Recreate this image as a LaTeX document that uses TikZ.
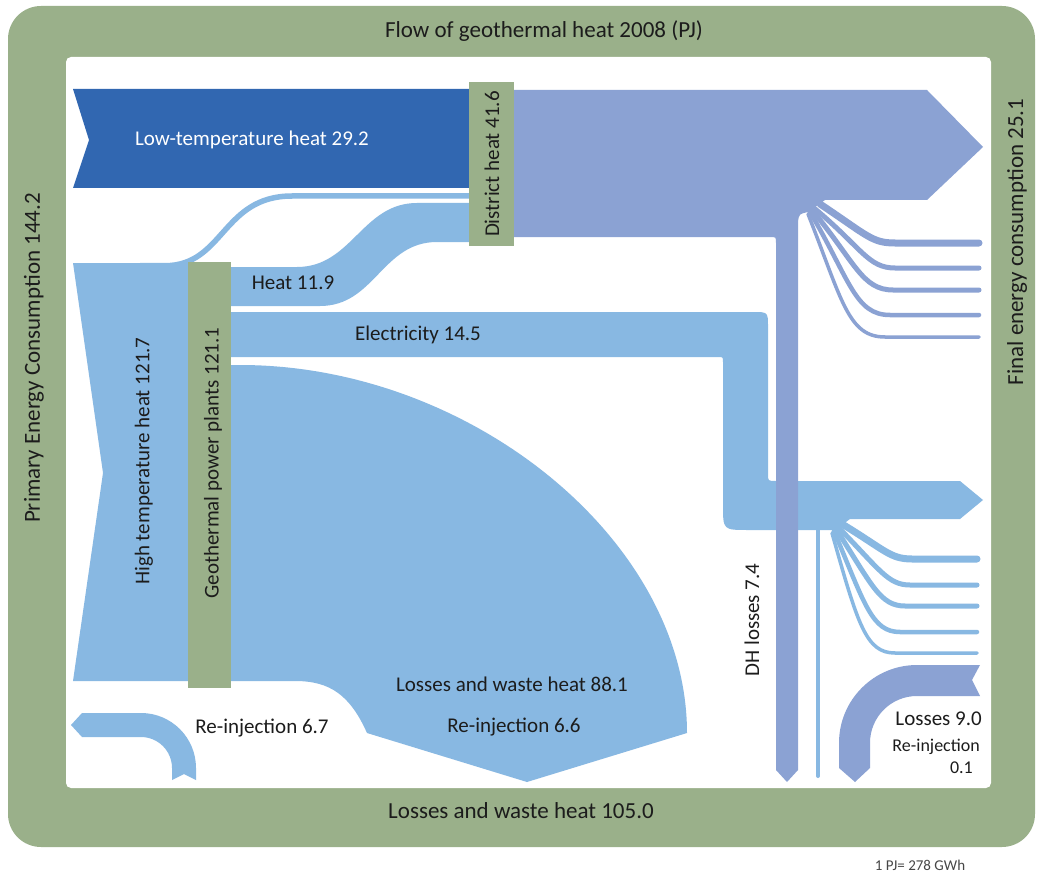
\documentclass[tikz,border=0pt]{standalone}
\usepackage{fontspec}
\setmainfont{Carlito}
\definecolor{framegreen}{RGB}{154,176,138}
\definecolor{lowblue}{RGB}{49,103,177}
\definecolor{hotblue}{RGB}{136,184,226}
\definecolor{dhblue}{RGB}{139,162,211}
\definecolor{ink}{RGB}{28,28,28}
\definecolor{noteink}{RGB}{70,70,70}
\tikzset{
  framelbl/.style={font=\fontsize{23}{27}\selectfont, text=ink, inner sep=0pt},
  flowlbl/.style={font=\fontsize{21}{25}\selectfont, text=ink, inner sep=0pt},
  smalllbl/.style={font=\fontsize{18}{21}\selectfont, text=ink, inner sep=0pt},
  notelbl/.style={font=\fontsize{15}{18}\selectfont, text=noteink, inner sep=0pt},
  hotflow/.style={fill=hotblue, draw=none},
  dhflow/.style={fill=dhblue, draw=none},
  hotfan/.style={draw=hotblue, line cap=round},
  dhfan/.style={draw=dhblue, line cap=round},
  stagebox/.style={fill=framegreen, draw=none}
}
\begin{document}
\begin{tikzpicture}[x=1pt,y=-1pt]
\useasboundingbox (0,0) rectangle (1037,872);

% frame with the inner drawing area
\fill[framegreen, rounded corners=33pt] (8,6) rectangle (1035,847);
\fill[white, rounded corners=5pt] (66,57) rectangle (991,788);

% low-temperature heat
\fill[lowblue] (73,89) -- (471,89) -- (471,188) -- (73,188) -- (89,140) -- cycle;

% high temperature heat
\fill[hotblue] (73,263) -- (205,263) -- (205,681) -- (73,681) -- (103,473) -- cycle;

% losses and waste heat of the power plants
\fill[hotblue] (210,365) -- (240,365) .. controls (470,365) and (687,540) .. (687,733)
  -- (527,782) -- (367,733) .. controls (350,695) and (330,681) .. (295,681)
  -- (210,681) -- cycle;

% heat from the power plants to district heat
\fill[hotblue] (225,267) -- (297,267) .. controls (352,267) and (362,203) .. (417,203)
  -- (472,203) -- (472,242) -- (437,242) .. controls (382,242) and (375,306) .. (320,306)
  -- (225,306) -- cycle;

% direct high temperature heat to district heat
\draw[hotblue, line width=5.5pt] (140,265.7) -- (165,265.7) .. controls (224,265.7) and (222,196) .. (292,196) -- (472,196);

% electricity
\fill[hotblue] (225,312) -- (753,312) .. controls (768,312) .. (768,327) -- (768,474)
  .. controls (768,481) .. (776,481) -- (960,481) -- (983,500) -- (960,519) -- (850,519)
  -- (835,530) -- (748,530) .. controls (723,530) .. (723,505) -- (723,362)
  .. controls (723,357) .. (718,357) -- (225,357) -- cycle;
\draw[hotblue, line width=4pt, line cap=round] (818,526) -- (818,776);
\draw[hotfan, line width=7pt] (842,524) .. controls (885,550) and (890,559) .. (912,559) -- (977,559);
\draw[hotfan, line width=5pt] (838,527) .. controls (880,570) and (888,585) .. (910,585) -- (977,585);
\draw[hotfan, line width=5pt] (836,529) .. controls (872,585) and (880,606) .. (905,606) -- (977,606);
\draw[hotfan, line width=4.5pt] (834,531) .. controls (865,605) and (872,632) .. (900,632) -- (977,632);
\draw[hotfan, line width=3.5pt] (832,533) .. controls (858,625) and (866,653) .. (895,653) -- (977,653);

% district heat output and DH losses
\fill[dhblue] (512,90) -- (927,90) -- (983,147) -- (927,200) -- (825,200) -- (808,212)
  .. controls (799,214) .. (798,222) -- (798,770) -- (787,782) -- (776,770)
  -- (776,243) .. controls (776,237) .. (770,237) -- (512,237) -- cycle;
\draw[dhfan, line width=7pt] (820,204) .. controls (868,236) and (872,243) .. (895,243) -- (979,243);
\draw[dhfan, line width=5pt] (814,208) .. controls (862,248) and (868,268) .. (895,268) -- (979,268);
\draw[dhfan, line width=5pt] (812,210) .. controls (855,262) and (862,290) .. (893,290) -- (979,290);
\draw[dhfan, line width=4.5pt] (810,212) .. controls (850,280) and (855,315) .. (890,315) -- (979,315);
\draw[dhfan, line width=3.5pt] (808,214) .. controls (842,300) and (848,337) .. (885,337) -- (979,337);

% losses 9.0
\fill[dhblue] (980,665) -- (917,665) .. controls (873.9,665) and (839,699.9) .. (839,743)
  -- (839,768) -- (855,782) -- (870,768) -- (870,743)
  .. controls (870,717) and (891,696) .. (917,696) -- (980,696) -- (972,680) -- cycle;

% re-injection 6.7
\fill[hotblue] (82,713) -- (141,713) .. controls (171.4,713) and (196,737.6) .. (196,768)
  -- (196,780) -- (184,774) -- (172,780) -- (172,768)
  .. controls (172,750.9) and (158.1,737) .. (141,737) -- (82,737) -- (71,725) -- cycle;

% conversion stages
\fill[stagebox] (469,82) rectangle (514,246);
\fill[stagebox] (188,262) rectangle (231,688);

% labels
\node[framelbl] (title) at (544,31) {Flow of geothermal heat 2008 (PJ)};
\node[framelbl, rotate=90] (primary) at (34,358) {Primary Energy Consumption 144.2};
\node[framelbl, rotate=90] (final) at (1017,242) {Final energy consumption 25.1};
\node[framelbl] (waste) at (521,811) {Losses and waste heat 105.0};
\node[notelbl] (note) at (920,865) {1 PJ= 278 GWh};

\node[flowlbl, text=white] (low) at (252,140) {Low-temperature heat 29.2};
\node[flowlbl, rotate=90] (dh) at (492,164) {District heat 41.6};
\node[flowlbl] (heat) at (293,283) {Heat 11.9};
\node[flowlbl] (elec) at (418,335) {Electricity 14.5};
\node[flowlbl, rotate=90] (high) at (144,461) {High temperature heat 121.7};
\node[flowlbl, rotate=90] (plants) at (213,463) {Geothermal power plants 121.1};
\node[flowlbl] (lossplant) at (512,684) {Losses and waste heat 88.1};
\node[flowlbl] (reinjB) at (514,727) {Re-injection 6.6};
\node[flowlbl] (reinjA) at (262,728) {Re-injection 6.7};
\node[flowlbl, rotate=90] (dhloss) at (752,620) {DH losses 7.4};
\node[flowlbl, anchor=east] (loss9) at (982,719) {Losses 9.0};
\node[smalllbl, anchor=east] (reinjC) at (980,747) {Re-injection};
\node[smalllbl, anchor=east] (reinjCval) at (973,768) {0.1};
\end{tikzpicture}
\end{document}
